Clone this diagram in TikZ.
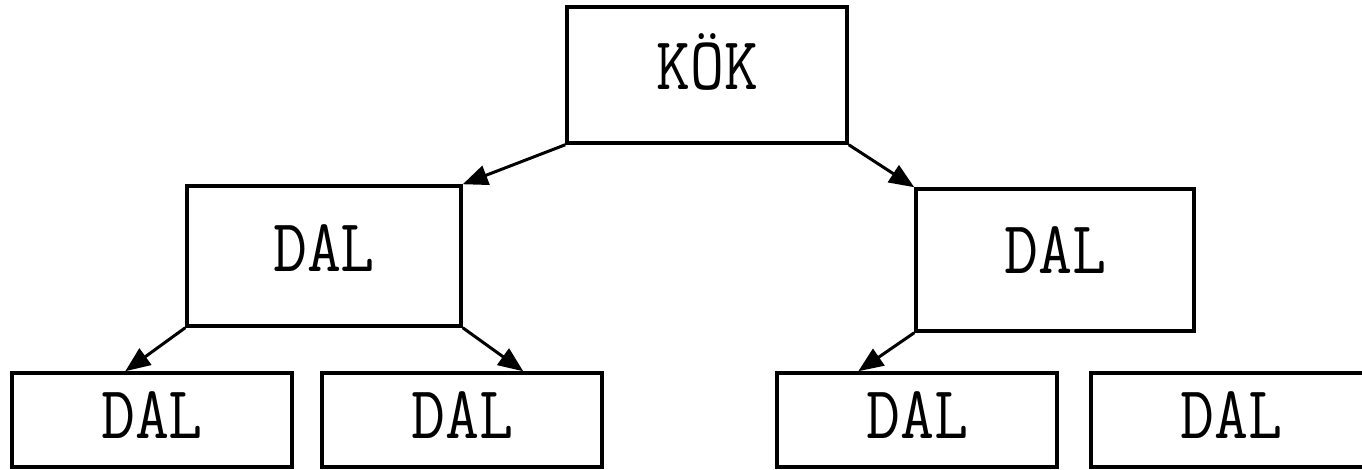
\documentclass[tikz,border=0pt]{standalone}
\usepackage{fontspec}
\usepackage{graphicx}
\usetikzlibrary{arrows.meta,calc}
\newcommand{\boxtext}[1]{\scalebox{0.88}[1]{\ttfamily #1}}
\begin{document}
\begin{tikzpicture}[x=1pt,y=-1pt,
  treebox/.style={draw,line width=3.5pt,rectangle,inner sep=0pt,
    font=\fontsize{75}{75}\selectfont,text height=46pt},
  upper/.style={treebox,minimum width=276pt,minimum height=138pt,text depth=16pt},
  lower/.style={treebox,minimum width=280pt,minimum height=94pt,text depth=10pt},
  link/.style={line width=3pt,-{Triangle[length=25pt,width=20pt]}}]
\useasboundingbox (0,0) rectangle (1362,469);
\clip (0,0) rectangle (1362,469);
% root and second level
\node[upper,minimum width=280pt,minimum height=136pt,text depth=18pt] (kok) at (707,75) {\boxtext{KÖK}};
\node[upper,minimum width=274pt,minimum height=140pt] (dalL) at (324,256) {\boxtext{DAL}};
\node[upper,minimum width=278pt,minimum height=142pt,text depth=20pt] (dalR) at (1055,260) {\boxtext{DAL}};
% third level (the last box runs past the right edge)
\node[lower] (b1) at (152,420) {\boxtext{DAL}};
\node[lower] (b2) at (462,420) {\boxtext{DAL}};
\node[lower] (b3) at (917,420) {\boxtext{DAL}};
\node[lower] (b4) at (1231,420) {\boxtext{DAL}};
% connectors
\draw[link] (kok.south west) -- (dalL.north east);
\draw[link] (kok.south east) -- (dalR.north west);
\draw[link] (dalL.south west) -- ($(b1.north west)+(115,0)$);
\draw[link] (dalL.south east) -- ($(b2.north west)+(203,0)$);
\draw[link] (dalR.south west) -- ($(b3.north west)+(83,0)$);
\end{tikzpicture}
\end{document}
